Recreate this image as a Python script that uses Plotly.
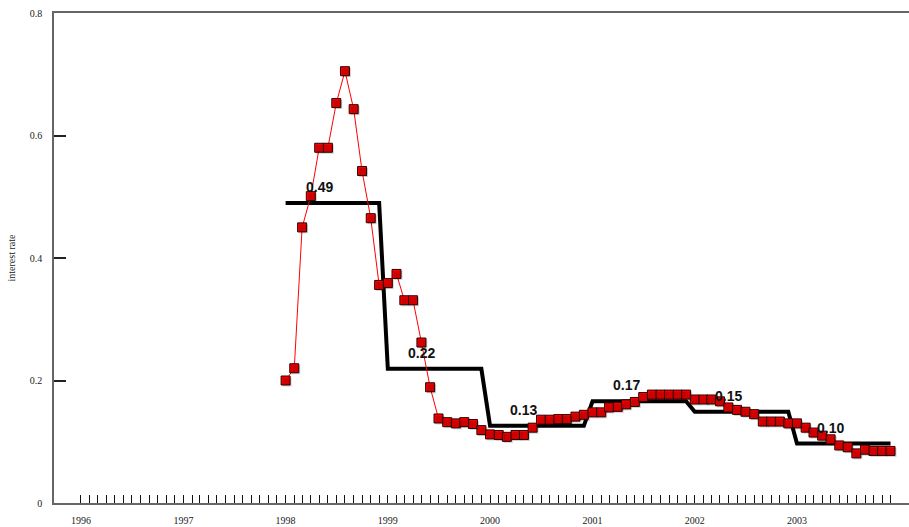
import pandas as pd
import plotly.graph_objects as go

# Monthly interest rate, Jan 1998 - Dec 2003
first_month = "1998-01-01"
rate = [
    0.200, 0.220, 0.450, 0.501, 0.580, 0.580, 0.653, 0.705, 0.643, 0.542, 0.465, 0.356,
    0.359, 0.374, 0.331, 0.331, 0.262, 0.189, 0.138, 0.132, 0.130, 0.132, 0.129, 0.119,
    0.112, 0.111, 0.108, 0.111, 0.111, 0.123, 0.136, 0.136, 0.137, 0.137, 0.141, 0.144,
    0.148, 0.148, 0.156, 0.157, 0.161, 0.165, 0.173, 0.177, 0.177, 0.177, 0.177, 0.177,
    0.169, 0.169, 0.169, 0.166, 0.156, 0.152, 0.149, 0.145, 0.133, 0.133, 0.133, 0.130,
    0.130, 0.123, 0.115, 0.110, 0.104, 0.094, 0.091, 0.081, 0.087, 0.085, 0.085, 0.085,
]

# Annual averages (step line) and their labels
years = [1998, 1999, 2000, 2001, 2002, 2003]
annual = [0.490, 0.219, 0.126, 0.166, 0.149, 0.097]

# Axis ticks
tick_years = list(range(1996, 2004))
y_ticks = [0, 0.2, 0.4, 0.6, 0.8]
y_ticktext = ["0", "0.2", "0.4", "0.6", "0.8"]

months = pd.date_range(first_month, periods=len(rate), freq="MS")
annual_x = pd.date_range(f"{years[0]}-01-01", f"{years[-1]}-12-01", freq="MS")
annual_y = [annual[years.index(d.year)] for d in annual_x]

tick_months = pd.date_range(f"{tick_years[0]}-01-01", f"{tick_years[-1]}-12-01", freq="MS")
tick_text = [str(d.year) if d.month == 1 else "" for d in tick_months]

x0 = pd.Timestamp("1995-09-27")
x1 = pd.Timestamp("2004-02-05")
day_px = (x1 - x0).days / 855.0          # days per pixel of plot width
y_px = 0.8 / 490.0                        # value per pixel of plot height
shift = pd.Timedelta(days=1.5 * day_px)

serif = "Liberation Serif, Times New Roman, serif"
sans = "Liberation Sans, Arial, sans-serif"

fig = go.Figure()

# annual average step line
fig.add_trace(go.Scatter(
    x=annual_x, y=annual_y, mode="lines",
    line=dict(color="black", width=4),
    hoverinfo="skip", showlegend=False,
))

# soft drop shadow under the monthly markers
fig.add_trace(go.Scatter(
    x=months, y=rate, mode="markers", xaxis="x2", yaxis="y2",
    marker=dict(symbol="square", size=9, color="rgba(0,0,0,0.18)", line=dict(width=0)),
    hoverinfo="skip", showlegend=False,
))

# monthly rate
fig.add_trace(go.Scatter(
    x=months, y=rate, mode="lines+markers",
    line=dict(color="#ff0000", width=1),
    marker=dict(symbol="square", size=9, color="#ff0000",
                line=dict(color="#300000", width=1)),
    showlegend=False,
))

for yr, v in zip(years, annual):
    fig.add_annotation(
        x=pd.Timestamp(f"{yr}-05-01"), y=v, text=f"{v:.2f}",
        showarrow=False, yshift=16, yanchor="middle", xanchor="center",
        font=dict(family=sans, size=14, color="#111111", weight="bold"),
    )

fig.update_layout(
    width=909, height=527,
    margin=dict(l=54, r=0, t=13, b=24),
    paper_bgcolor="white", plot_bgcolor="white",
    xaxis=dict(
        range=[x0, x1], tickmode="array", tickvals=tick_months, ticktext=tick_text,
        ticks="inside", ticklen=8, tickwidth=1, tickcolor="#111111",
        showline=True, linecolor="#666666", linewidth=1.5, mirror=True,
        showgrid=False, zeroline=False, ticklabelstandoff=7,
        tickfont=dict(family=serif, size=10, color="#222222"),
    ),
    yaxis=dict(
        range=[0, 0.8], tickmode="array", tickvals=y_ticks, ticktext=y_ticktext,
        ticks="inside", ticklen=12, tickwidth=1.5, tickcolor="#222222",
        showline=True, linecolor="#666666", linewidth=1.5,
        showgrid=False, zeroline=False, ticklabelstandoff=8,
        tickfont=dict(family=serif, size=10, color="#222222"),
        title=dict(text="interest rate", standoff=12,
                   font=dict(family=serif, size=10, color="#222222")),
    ),
    xaxis2=dict(range=[x0 - shift, x1 - shift], overlaying="x", visible=False),
    yaxis2=dict(range=[1.5 * y_px, 0.8 + 1.5 * y_px], overlaying="y", visible=False),
)

fig.write_html("out.html")
